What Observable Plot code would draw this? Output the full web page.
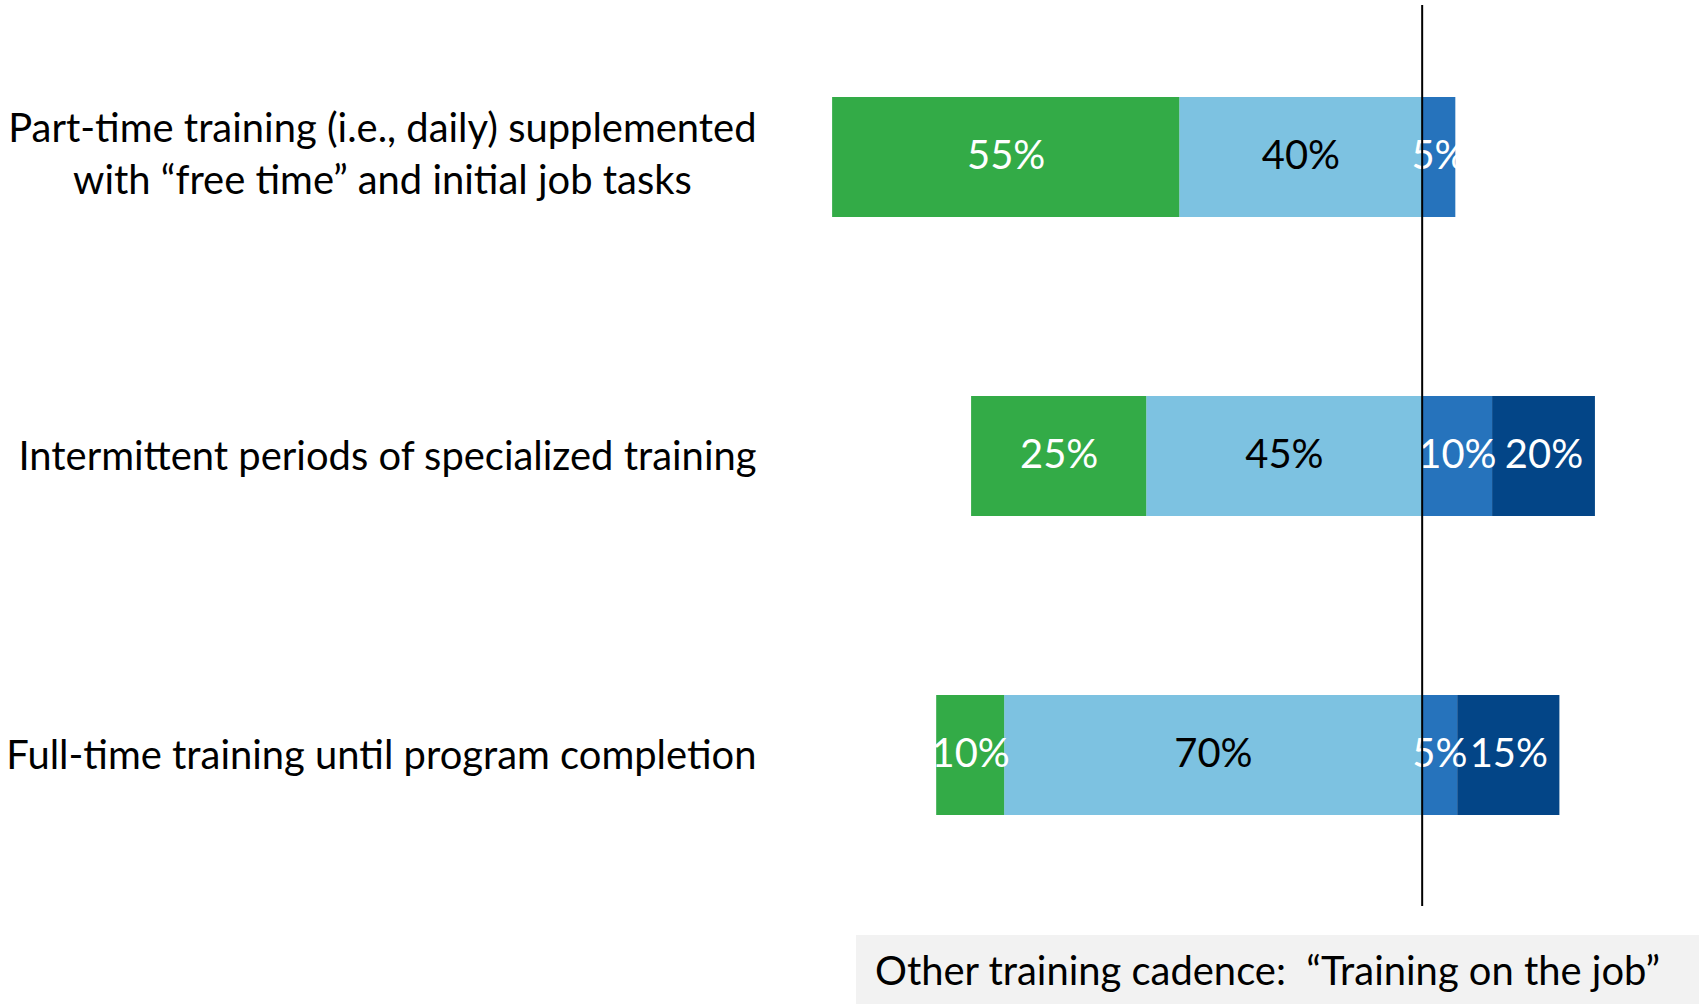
<!DOCTYPE html>
<html><head><meta charset="utf-8">
<script src="https://cdn.jsdelivr.net/npm/d3@7"></script>
<script src="https://cdn.jsdelivr.net/npm/@observablehq/plot@0.6"></script>
<style>
body{margin:0;background:#fff;}
#chart svg{display:block;}
#caption{margin-left:856px;height:69px;background:#f2f2f2;display:flex;align-items:center;padding-left:19px;box-sizing:border-box;white-space:pre;color:#000;}
</style></head><body>
<div id="chart"></div>
<div id="caption"></div>
<script>
// ---- data ----
const categories = [
  "Part-time training (i.e., daily) supplemented\nwith “free time” and initial job tasks",
  "Intermittent periods of specialized training",
  "Full-time training until program completion"
];
const seriesNames = ["green", "lightBlue", "midBlue", "darkBlue"];
const seriesColors = ["#33AB47", "#7DC2E1", "#2673BC", "#034587"];
const labelInk = ["#ffffff", "#000000", "#ffffff", "#ffffff"];
const seriesSide = [-1, -1, 1, 1]; // left of the zero line or right of it
const greenValues = [55.7, 28.1, 10.9];
const lightBlueValues = [38.9, 44.2, 67.0];
const midBlueValues = [5.4, 11.3, 5.7];
const darkBlueValues = [0, 16.5, 16.4];
const greenLabels = ["55%", "25%", "10%"];
const lightBlueLabels = ["40%", "45%", "70%"];
const midBlueLabels = ["5%", "10%", "5%"];
const darkBlueLabels = ["", "20%", "15%"];
const captionText = "Other training cadence:  “Training on the job”";

// ---- build table (stack order: nearest zero first) ----
const valueArrays = [greenValues, lightBlueValues, midBlueValues, darkBlueValues];
const labelArrays = [greenLabels, lightBlueLabels, midBlueLabels, darkBlueLabels];
const stackOrder = [1, 0, 2, 3];
const rows = [];
categories.forEach((cat, i) => {
  stackOrder.forEach(s => {
    rows.push({cat, series: seriesNames[s], value: seriesSide[s] * valueArrays[s][i],
      label: labelArrays[s][i], fill: seriesColors[s], ink: labelInk[s]});
  });
});

// ---- font size fitted so the text width matches the original's 32pt Calibri ----
const FONT = "Lato";
const ctx = document.createElement("canvas").getContext("2d");
ctx.font = `100px ${FONT}`;
const fs = 739 / ctx.measureText(categories[1]).width * 100;

const plot = Plot.plot({
  width: 1699,
  height: 935,
  marginLeft: 786,
  marginRight: 0,
  marginTop: 5,
  marginBottom: 29,
  style: {fontFamily: FONT, fontSize: fs + "px", background: "#fff"},
  x: {domain: [-102, 44.5], axis: null},
  y: {domain: categories, paddingInner: 0.6, paddingOuter: 0.3017, label: null},
  color: {type: "identity"},
  marks: [
    Plot.axisY({tickSize: 0, tickPadding: 30, dy: -3, fontSize: fs, lineHeight: 52 / fs, label: null, fill: "#000"}),
    Plot.barX(rows, Plot.stackX({x: "value", y: "cat", fill: "fill"})),
    Plot.text(rows, Plot.stackX({x: "value", y: "cat", text: "label", fill: "ink", fontSize: fs, dy: -1})),
    Plot.ruleX([0], {stroke: "#000", strokeWidth: 2})
  ]
});
document.getElementById("chart").appendChild(plot);

// center the lines of the two-line category label on each other, as in the original
plot.querySelectorAll("text").forEach(t => {
  const spans = t.querySelectorAll("tspan");
  if (spans.length > 1) {
    const bb = t.getBBox();
    const right = bb.x + bb.width;
    t.setAttribute("text-anchor", "middle");
    spans.forEach(sp => sp.setAttribute("x", right - bb.width / 2));
    t.setAttribute("transform", ((t.getAttribute("transform") || "") + " translate(0,-3)").trim());
  }
});

const cap = document.getElementById("caption");
cap.textContent = captionText;
cap.style.fontFamily = FONT;
cap.style.fontSize = fs + "px";
</script>
</body></html>
